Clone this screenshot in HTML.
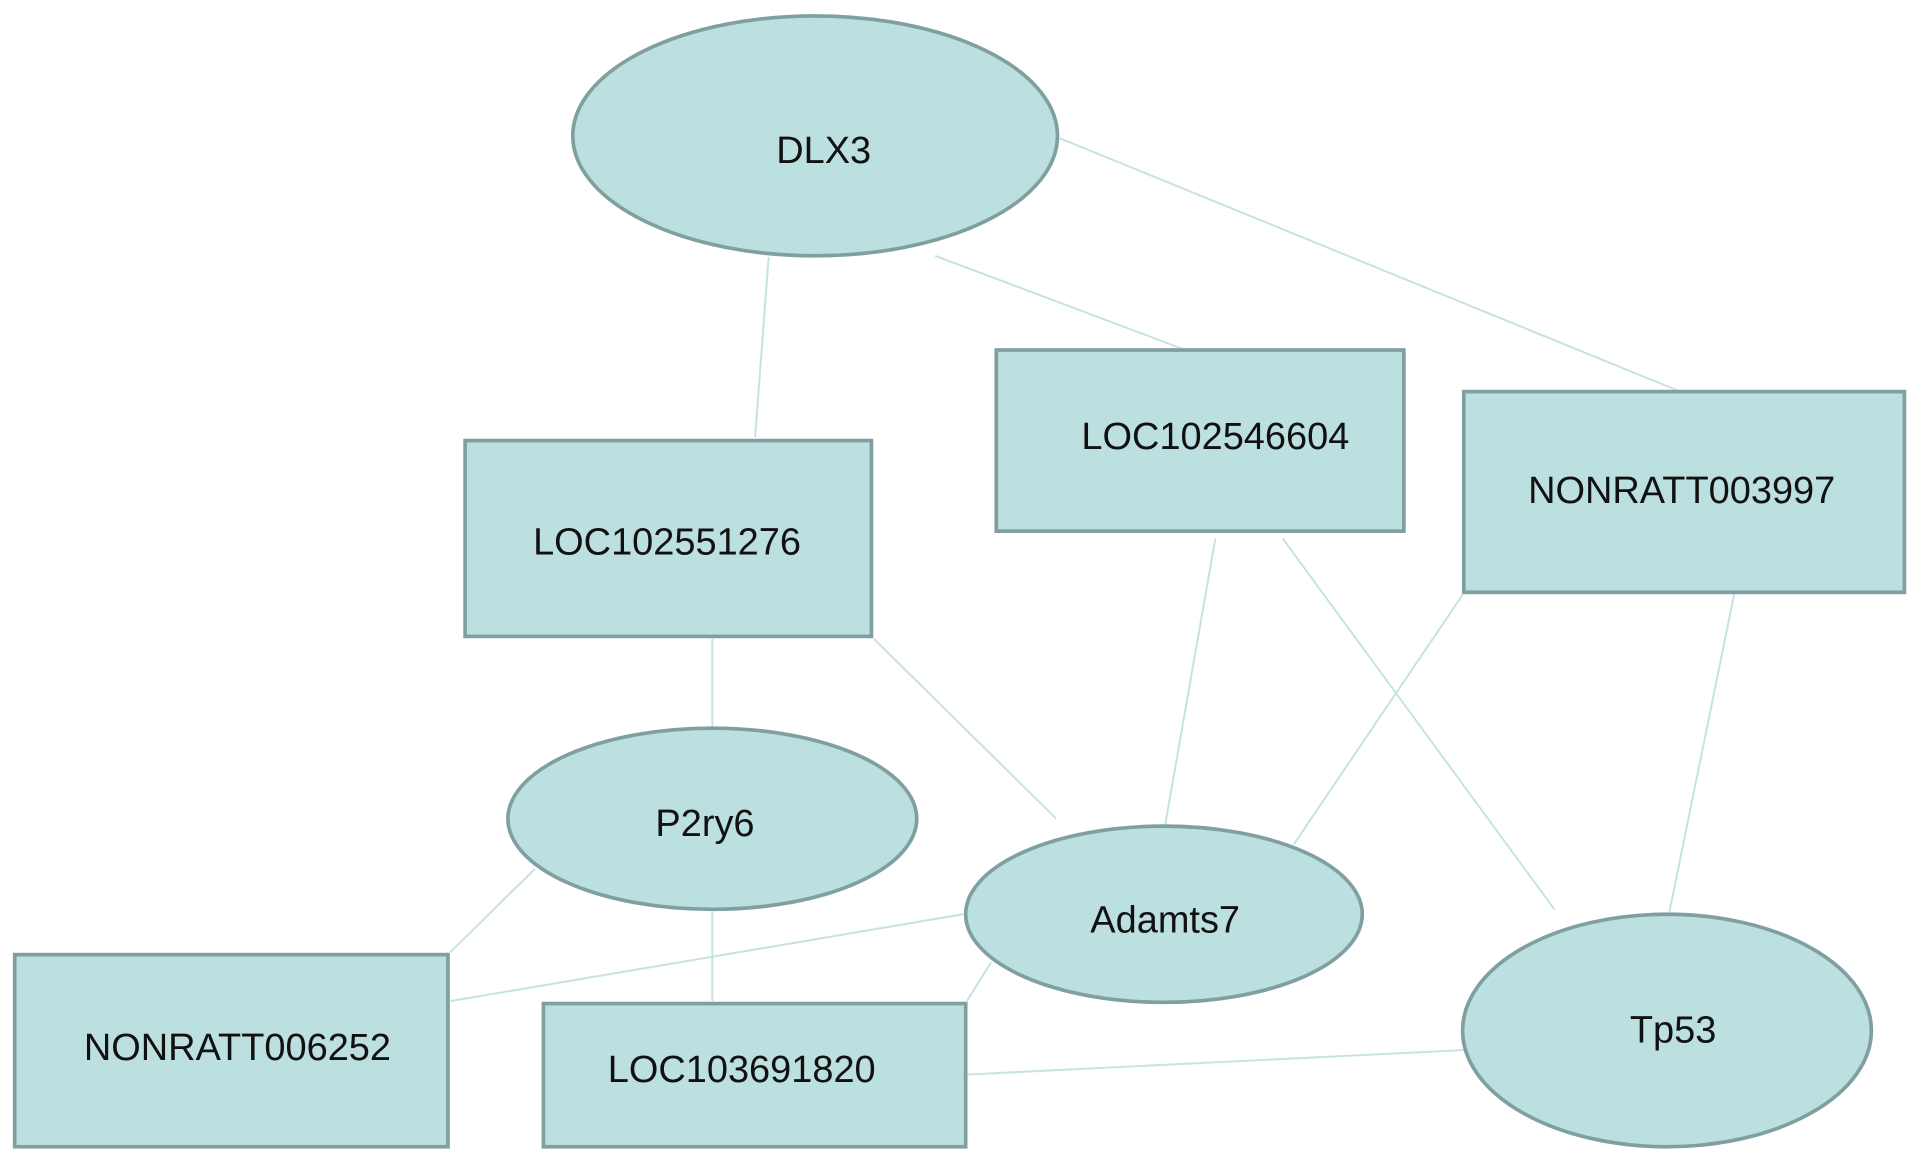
<!DOCTYPE html>
<html><head><meta charset="utf-8"><style>html,body{margin:0;padding:0;background:#fff}svg{display:block}</style></head>
<body>
<svg width="1913" height="1159" viewBox="0 0 1563 947" preserveAspectRatio="none" xmlns="http://www.w3.org/2000/svg">
<g stroke="#c5e3df" stroke-width="1.6" fill="none">
<line x1="628" y1="210" x2="617" y2="357"/>
<line x1="764" y1="209" x2="966" y2="285"/>
<line x1="866" y1="113" x2="1373" y2="320"/>
<line x1="582" y1="522" x2="582" y2="595"/>
<line x1="714" y1="522" x2="863" y2="669"/>
<line x1="993" y1="440" x2="952" y2="674"/>
<line x1="1048" y1="440" x2="1270" y2="743"/>
<line x1="1195" y1="486" x2="1057" y2="690"/>
<line x1="1417" y1="485" x2="1364" y2="745"/>
<line x1="437" y1="710" x2="368" y2="778"/>
<line x1="582" y1="745" x2="582" y2="818"/>
<line x1="787" y1="747" x2="368" y2="818"/>
<line x1="810" y1="786" x2="790" y2="818"/>
<line x1="790" y1="878" x2="1196" y2="858"/>
</g>
<g fill="#bcdfe0" stroke="#7f9fa0" stroke-width="3">
<ellipse cx="666" cy="111" rx="198" ry="98"/>
<rect x="814" y="286" width="333" height="148"/>
<rect x="1196" y="320" width="360" height="164"/>
<rect x="380" y="360" width="332" height="160"/>
<ellipse cx="582" cy="669" rx="167" ry="74"/>
<ellipse cx="951" cy="747" rx="162" ry="72"/>
<ellipse cx="1362" cy="842" rx="167" ry="95"/>
<rect x="12" y="780" width="354" height="157"/>
<rect x="444" y="820" width="345" height="117"/>
</g>
<g font-family="Liberation Sans, sans-serif" font-size="31" fill="#111" text-anchor="middle">
<text x="673" y="133">DLX3</text>
<text x="993" y="367">LOC102546604</text>
<text x="1374" y="411">NONRATT003997</text>
<text x="545" y="453">LOC102551276</text>
<text x="576" y="683">P2ry6</text>
<text x="952" y="762">Adamts7</text>
<text x="1367" y="852">Tp53</text>
<text x="194" y="866">NONRATT006252</text>
<text x="606" y="884">LOC103691820</text>
</g>
</svg>
</body></html>
